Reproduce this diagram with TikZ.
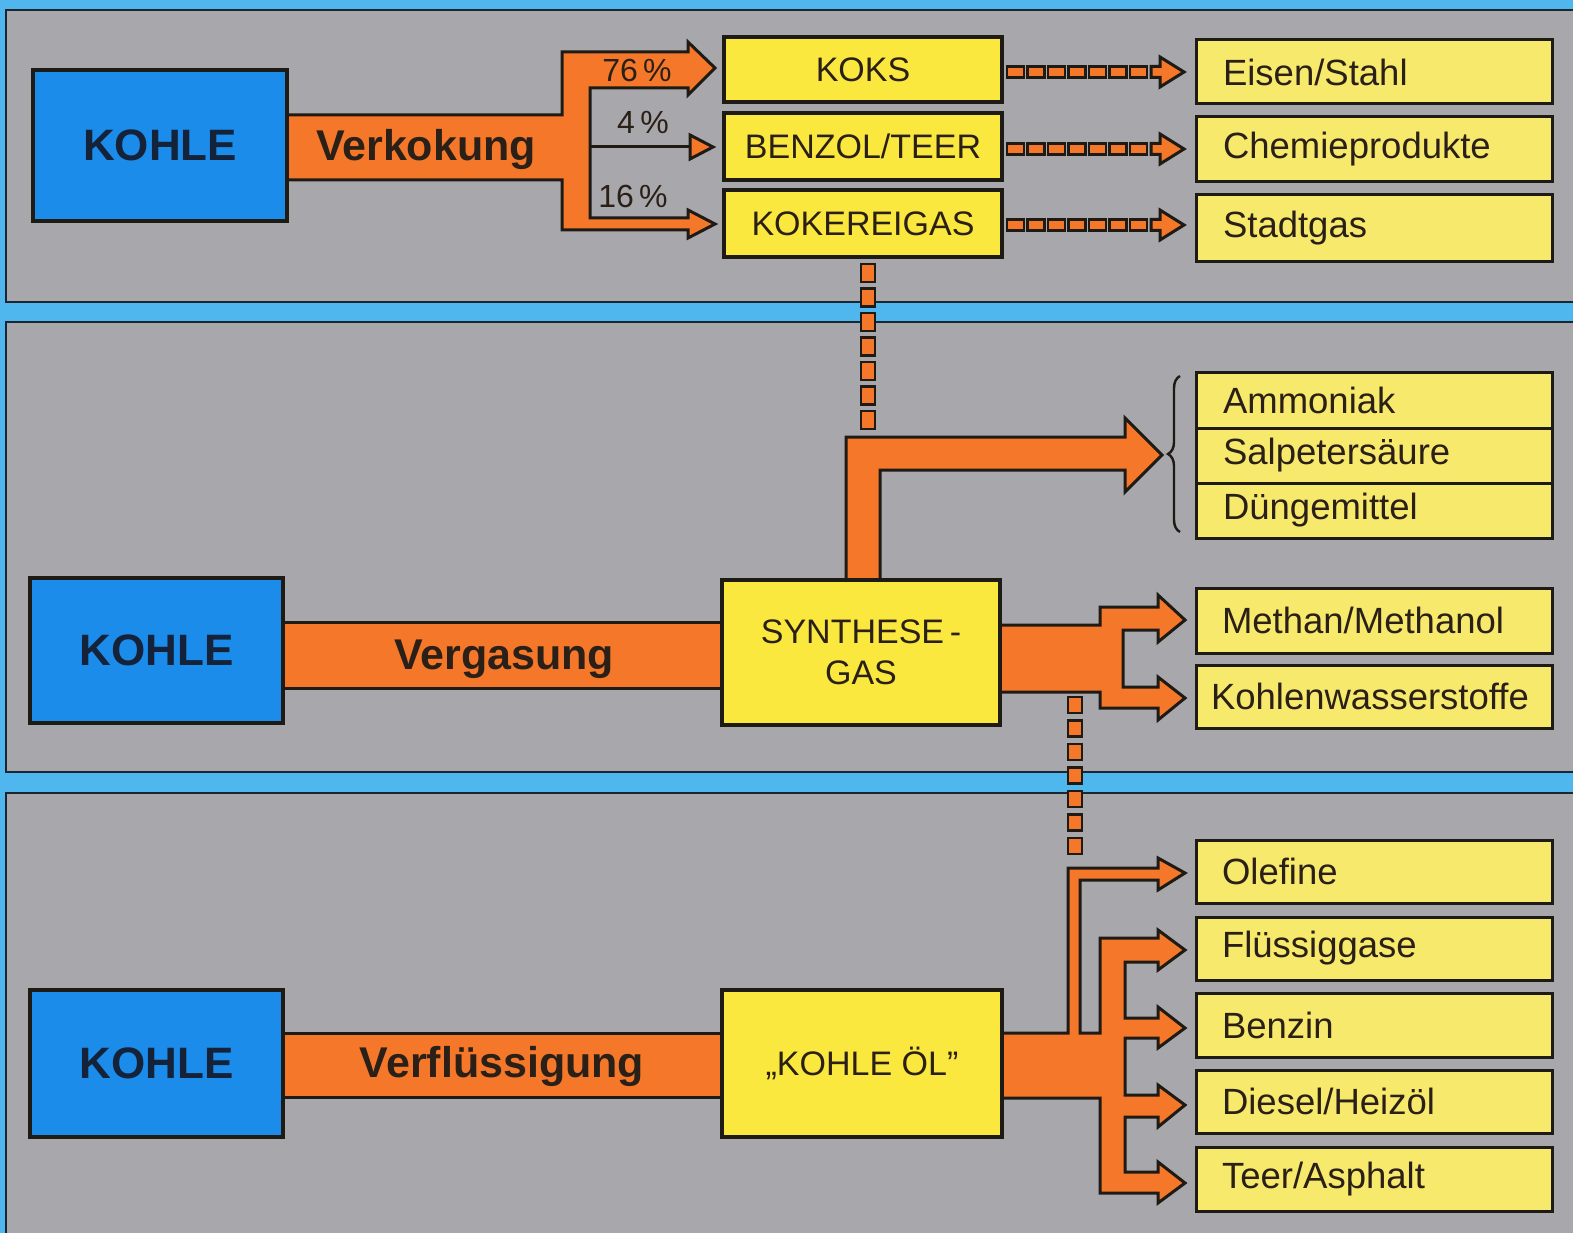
\documentclass[tikz,border=0pt]{standalone}
\usepackage{fontspec}
\setmainfont{Liberation Sans}
\usetikzlibrary{decorations.pathreplacing}
\definecolor{bgblue}{HTML}{4FB6EE}
\definecolor{panelgray}{HTML}{A8A7AB}
\definecolor{kblue}{HTML}{1C8CEB}
\definecolor{korange}{HTML}{F5782A}
\definecolor{kyellow}{HTML}{FBE83E}
\definecolor{lyellow}{HTML}{F7E96B}
\definecolor{lineblack}{HTML}{1E1A14}
\definecolor{navytext}{HTML}{14233A}
\definecolor{darktext}{HTML}{2A2018}
\definecolor{panelline}{HTML}{1A2632}
\begin{document}
\begin{tikzpicture}[x=1pt,y=-1pt,
  panel/.style={fill=panelgray, draw=panelline, line width=2.5pt},
  bluebox/.style={draw=lineblack, line width=3.5pt, fill=kblue, minimum width=253pt, minimum height=146pt, font=\fontsize{44}{50}\selectfont\bfseries, text=navytext},
  ybox/.style={draw=lineblack, line width=3.5pt, fill=kyellow, minimum width=278pt, inner sep=0pt, font=\fontsize{34}{40}\selectfont, align=center, text=darktext},
  rbox/.style={draw=lineblack, line width=3pt, fill=lyellow, text width=308pt, inner xsep=24pt, inner ysep=0pt, align=left, font=\fontsize{36.5}{40}\selectfont, text=darktext},
  arrowshape/.style={fill=korange, draw=lineblack, line width=3pt, line join=miter},
  dashbox/.style={fill=korange, draw=lineblack, line width=2.2pt},
  bandtext/.style={font=\fontsize{43}{48}\selectfont\bfseries, text=darktext},
  pct/.style={font=\fontsize{32}{36}\selectfont, text=darktext}
]
\useasboundingbox (0,0) rectangle (1573,1233);
\clip (0,0) rectangle (1573,1233);
\fill[bgblue] (0,0) rectangle (1573,1233);
\draw[panel] (6,10) rectangle (1600,302);
\draw[panel] (6,322) rectangle (1600,772);
\draw[panel] (6,793) rectangle (1600,1260);

% ---------- orange flows ----------
% Verkokung
\draw[arrowshape] (280,115) -- (562,115) -- (562,52) -- (688,52) -- (688,42) -- (715,68) -- (688,95) -- (688,88) -- (590,88) -- (590,218) -- (688,218) -- (688,210) -- (715,224) -- (688,238) -- (688,230) -- (562,230) -- (562,180) -- (280,180) -- cycle;
\draw[lineblack, line width=3pt] (590,147) -- (690,147);
\draw[arrowshape] (690,135) -- (713,147) -- (690,159) -- cycle;
% Vergasung
\draw[arrowshape] (280,622) rectangle (726,688);
\draw[arrowshape] (846,585) -- (846,437) -- (1125,437) -- (1125,418) -- (1162,455) -- (1125,492) -- (1125,470) -- (880,470) -- (880,585) -- cycle;
\draw[arrowshape] (990,625) -- (1100,625) -- (1100,607) -- (1158,607) -- (1158,595) -- (1185,620) -- (1158,642) -- (1158,630) -- (1123,630) -- (1123,687) -- (1158,687) -- (1158,677) -- (1185,698) -- (1158,720) -- (1158,708) -- (1100,708) -- (1100,692) -- (990,692) -- cycle;
% Verfluessigung
\draw[arrowshape] (280,1033) rectangle (726,1097);
\draw[arrowshape] (990,1033) -- (1068,1033) -- (1068,868) -- (1158,868) -- (1158,858) -- (1185,873) -- (1158,890) -- (1158,880) -- (1080,880) -- (1080,1033) -- (1100,1033) -- (1100,938) -- (1158,938) -- (1158,930) -- (1185,950) -- (1158,970) -- (1158,962) -- (1125,962) -- (1125,1018) -- (1158,1018) -- (1158,1007) -- (1185,1028) -- (1158,1048) -- (1158,1038) -- (1125,1038) -- (1125,1095) -- (1158,1095) -- (1158,1085) -- (1185,1105) -- (1158,1127) -- (1158,1117) -- (1125,1117) -- (1125,1172) -- (1158,1172) -- (1158,1162) -- (1185,1183) -- (1158,1203) -- (1158,1193) -- (1100,1193) -- (1100,1098) -- (990,1098) -- cycle;

% ---------- dashed connectors ----------
\foreach \yy in {72,149,225}{
  \foreach \i in {0,...,6}{
    \draw[dashbox] ({1007+20.5*\i},{\yy-5.5}) rectangle +(17,11);
  }
  \draw[arrowshape] (1151,{\yy-5.5}) -- (1160,{\yy-5.5}) -- (1160,{\yy-15}) -- (1184,\yy) -- (1160,{\yy+15}) -- (1160,{\yy+5.5}) -- (1151,{\yy+5.5}) -- cycle;
}
\foreach \i in {0,...,6}{
  \draw[dashbox] (861,{264+24.5*\i}) rectangle +(14,18);
}
\foreach \i in {0,...,6}{
  \draw[dashbox] (1068,{697+23.5*\i}) rectangle +(14,16);
}

% ---------- brace ----------
\draw[decorate, decoration={brace, amplitude=12pt}, line width=2.4pt, draw=lineblack] (1180,532) -- (1180,376);

% ---------- boxes ----------
\node[bluebox, minimum width=254pt, minimum height=151pt] (kohle1) at (160,145.5) {KOHLE};
\node[bluebox, minimum height=145pt] (kohle2) at (156.5,650.5) {KOHLE};
\node[bluebox, minimum height=147pt] (kohle3) at (156.5,1063.5) {KOHLE};

\node[bandtext] (verkokung) at (426,149) {Verkokung};
\node[bandtext] (vergasung) at (504,659) {Vergasung};
\node[bandtext] (verfl) at (502,1066) {Verflüssigung};

\node[pct] (p76) at (637,70) {76\,\%};
\node[pct] (p4) at (643,122) {4\,\%};
\node[pct] (p16) at (633,196) {16\,\%};

\node[ybox, minimum height=65pt] (koks) at (863,69.5) {KOKS};
\node[ybox, minimum height=67pt] (benzol) at (863,146.5) {BENZOL/TEER};
\node[ybox, minimum height=67pt] (kokerei) at (863,223.5) {KOKEREIGAS};
\node[ybox, minimum height=145pt, font=\fontsize{34}{41}\selectfont] (synthese) at (861,652.5) {SYNTHESE\,-\\GAS};
\node[ybox, minimum width=280pt, minimum height=147pt] (kohleoel) at (862,1063.5) {„KOHLE ÖL”};

\node[rbox, minimum height=64pt] (eisen) at (1374,72) {\hspace*{3pt}Eisen/Stahl};
\node[rbox, minimum height=65pt] (chemie) at (1374,149.5) {\hspace*{3pt}Chemieprodukte};
\node[rbox, minimum height=67pt] (stadtgas) at (1374,228.5) {\hspace*{3pt}Stadtgas};
\node[rbox, minimum height=56pt] (ammoniak) at (1374,400) {\hspace*{3pt}Ammoniak};
\node[rbox, minimum height=55pt] (salpeter) at (1374,455.5) {\hspace*{3pt}Salpetersäure};
\node[rbox, minimum height=55pt] (duenge) at (1374,510.5) {\hspace*{3pt}Düngemittel};
\node[rbox, minimum height=65pt] (methan) at (1374,620.5) {\hspace*{2pt}Methan/Methanol};
\node[rbox, minimum height=63pt] (kohlenw) at (1374,696.5) {\hspace*{-9pt}\makebox[0pt][l]{Kohlenwasserstoffe}};
\node[rbox, minimum height=63pt] (olefine) at (1374,871.5) {\hspace*{2pt}Olefine};
\node[rbox, minimum height=63pt] (fluessig) at (1374,948.5) {\hspace*{2pt}Flüssiggase};
\node[rbox, minimum height=64pt] (benzin) at (1374,1025) {\hspace*{2pt}Benzin};
\node[rbox, minimum height=63pt] (diesel) at (1374,1101.5) {\hspace*{2pt}Diesel/Heizöl};
\node[rbox, minimum height=64pt] (teer) at (1374,1179) {\hspace*{2pt}Teer/Asphalt};
\end{tikzpicture}
\end{document}
